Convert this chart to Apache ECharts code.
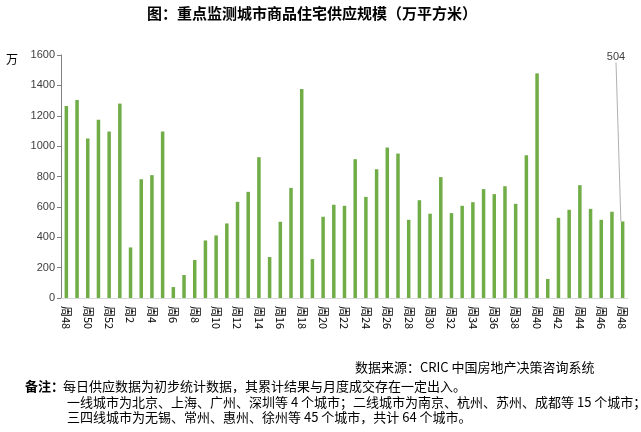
<!DOCTYPE html>
<html>
<head>
<meta charset="utf-8">
<script src="https://cdn.jsdelivr.net/npm/echarts@6/dist/echarts.min.js"></script>
<style>html,body{margin:0;padding:0;background:#fff}#c{width:641px;height:432px}</style>
</head>
<body>
<div id="c"></div>
<script>
var weeks = [48,49,50,51,52,1,2,3,4,5,6,7,8,9,10,11,12,13,14,15,16,17,18,19,20,21,22,23,24,25,26,27,28,29,30,31,32,33,34,35,36,37,38,39,40,41,42,43,44,45,46,47,48];
var supply = [1265,1304,1050,1173,1096,1280,333,782,809,1096,72,151,250,379,412,491,633,699,927,270,502,725,1376,256,535,614,607,914,666,848,991,951,515,644,555,796,559,607,631,717,684,736,620,940,1479,125,528,581,743,587,515,568,504];
var yTicks = [0,200,400,600,800,1000,1200,1400,1600];
var titleText = '图：重点监测城市商品住宅供应规模（万平方米）';
var sourceText = '数据来源：CRIC 中国房地产决策咨询系统';
var noteLabel = '备注：';
var noteLines = ['每日供应数据为初步统计数据，其累计结果与月度成交存在一定出入。',
  '一线城市为北京、上海、广州、深圳等 4 个城市；二线城市为南京、杭州、苏州、成都等 15 个城市；',
  '三四线城市为无锡、常州、惠州、徐州等 45 个城市，共计 64 个城市。'];
var cats = weeks.map(function(w){return '周' + w;});
var lastIdx = supply.length - 1;
var seriesData = supply.map(function(v,i){
  if (i === lastIdx) return {value: v, label: {show: true}};
  return v;
});
var font = '"Noto Sans CJK SC", "Liberation Sans", sans-serif';
var chart = echarts.init(document.getElementById('c'));
chart.setOption({
  animation: false,
  textStyle: {fontFamily: font},
  grid: {left: 61, right: 13, top: 55, bottom: 134},
  xAxis: {
    type: 'category', data: cats,
    axisLine: {lineStyle: {color: '#d9d9d9', width: 1}},
    axisTick: {show: false},
    axisLabel: {interval: 1, rotate: -90, color: '#000', fontSize: 11, margin: 8, fontFamily: font}
  },
  yAxis: {
    type: 'value', min: yTicks[0], max: yTicks[yTicks.length-1], interval: 200,
    axisLine: {show: true, lineStyle: {color: '#808080'}},
    axisTick: {show: true, length: 4, lineStyle: {color: '#808080'}},
    splitLine: {show: false},
    axisLabel: {color: '#404040', fontSize: 11, margin: 6, formatter: function(v){return String(v);}, fontFamily: '"Liberation Sans", sans-serif'}
  },
  series: [{
    type: 'bar', data: seriesData, barWidth: 3.5,
    itemStyle: {color: '#70ad47'},
    label: {show: false, position: 'top', color: '#404040', fontSize: 11, fontFamily: '"Liberation Sans", sans-serif'},
    labelLine: {show: true, lineStyle: {color: '#b0b0b0', width: 1}},
    labelLayout: function(p){
      if (p.dataIndex === lastIdx) return {x: 616, y: 57, align: 'center', verticalAlign: 'middle'};
      return {};
    }
  }],
  graphic: [
    {type: 'text', left: 147, top: 6, style: {text: titleText, font: 'bold 15px ' + font, fill: '#000'}},
    {type: 'text', left: 6, top: 53, style: {text: '万', font: '12px ' + font, fill: '#000'}},
    {type: 'text', left: 355, top: 361, style: {text: sourceText, font: '13px ' + font, fill: '#000'}},
    {type: 'text', left: 25, top: 380, style: {text: noteLabel, font: 'bold 13px ' + font, fill: '#000'}},
    {type: 'text', left: 63, top: 380, style: {text: noteLines[0], font: '13px ' + font, fill: '#000'}},
    {type: 'text', left: 67, top: 396, style: {text: noteLines[1], font: '13px ' + font, fill: '#000'}},
    {type: 'text', left: 67, top: 411, style: {text: noteLines[2], font: '13px ' + font, fill: '#000'}}
  ]
});
</script>
</body>
</html>
